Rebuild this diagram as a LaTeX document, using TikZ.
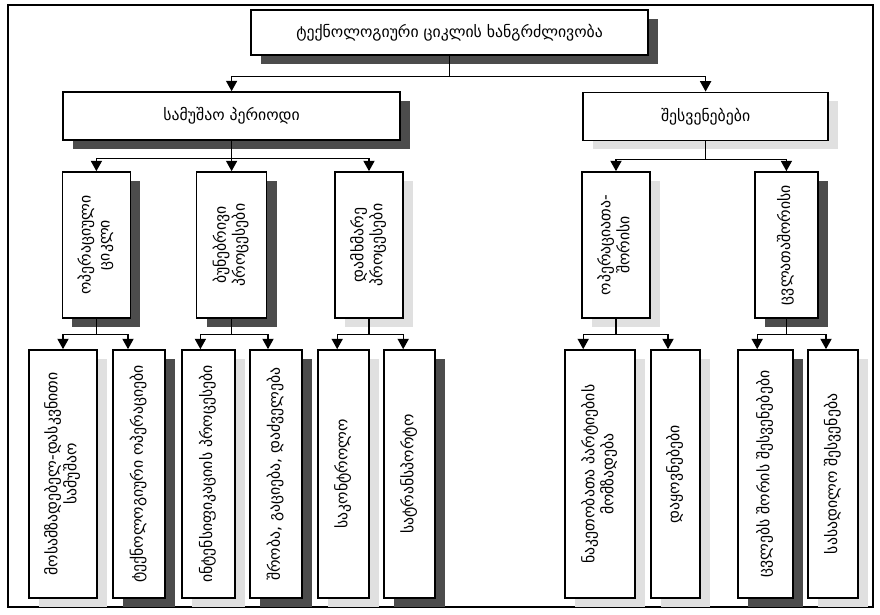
\documentclass[tikz,border=0pt]{standalone}
\usepackage{fontspec}
\setmainfont{DejaVu Sans}
\usetikzlibrary{arrows.meta,shadows}

% vertical (bottom-to-top) text for the narrow boxes
\newcommand{\sidetext}[1]{\rotatebox{90}{\begin{tabular}{@{}c@{}}#1\end{tabular}}}

\tikzset{
  block/.style={draw, line width=1.2pt, fill=white, inner sep=0pt,
    font=\fontsize{11.2}{13.5}\selectfont},
  darkshade/.style={drop shadow={shadow xshift=0.25cm, shadow yshift=-0.22cm,
    fill=black!70, opacity=1}},
  lightshade/.style={drop shadow={shadow xshift=0.25cm, shadow yshift=-0.22cm,
    fill=black!12, opacity=1}},
  link/.style={line width=0.9pt, -{Triangle[length=2.6mm,width=2.8mm]}}
}

\begin{document}
\begin{tikzpicture}
	\useasboundingbox (0,0) rectangle (22,15.35);
	% Frame
	\draw[line width=0.8pt] (0.2,0.175) rectangle (21.825,15.225);

	% Top level
	\node[block, darkshade, minimum width=9.925cm, minimum height=1.125cm] (cycle) at (11.24,14.54) {ტექნოლოგიური ციკლის ხანგრძლივობა};

	% Working period and breaks
	\node[block, darkshade, minimum width=8.425cm, minimum height=1.2cm] (work) at (5.79,12.45) {სამუშაო პერიოდი};
	\node[block, lightshade, minimum width=6.125cm, minimum height=1.2cm] (breaks) at (17.64,12.44) {შესვენებები};

	% Third level
	\node[block, darkshade, minimum width=1.7cm, minimum height=3.65cm] (opcycle) at (2.41,9.225) {\sidetext{ოპერაციული\\ციკლი}};
	\node[block, darkshade, minimum width=1.75cm, minimum height=3.65cm] (natural) at (5.79,9.225) {\sidetext{ბუნებრივი\\პროცესები}};
	\node[block, lightshade, minimum width=1.7cm, minimum height=3.65cm] (auxiliary) at (9.225,9.225) {\sidetext{დამხმარე\\პროცესები}};
	\node[block, lightshade, minimum width=1.7cm, minimum height=3.65cm] (interop) at (15.4,9.225) {\sidetext{ოპერაციათა-\\შორისი}};
	\node[block, darkshade, minimum width=1.575cm, minimum height=3.65cm] (intershift) at (19.66,9.225) {\sidetext{ცვლათაშორისი}};

	% Bottom level
	\node[block, lightshade, minimum width=1.7cm, minimum height=6.2cm] (prepfinal) at (1.575,3.5) {\sidetext{მოსამზადებელ-დასკვნითი\\სამუშაო}};
	\node[block, darkshade, minimum width=1.3cm, minimum height=6.2cm] (techops) at (3.475,3.5) {\sidetext{ტექნოლოგიური ოპერაციები}};
	\node[block, lightshade, minimum width=1.325cm, minimum height=6.2cm] (intensif) at (5.21,3.5) {\sidetext{ინტენსიფიკაციის პროცესები}};
	\node[block, darkshade, minimum width=1.3cm, minimum height=6.2cm] (drying) at (6.9,3.5) {\sidetext{შრობა, გაციება, დაძველება}};
	\node[block, lightshade, minimum width=1.275cm, minimum height=6.2cm] (control) at (8.59,3.5) {\sidetext{საკონტროლო}};
	\node[block, darkshade, minimum width=1.275cm, minimum height=6.2cm] (transport) at (10.24,3.5) {\sidetext{სატრანსპორტო}};
	\node[block, lightshade, minimum width=1.75cm, minimum height=6.2cm] (batches) at (15.0,3.5) {\sidetext{ნაკეთობათა პარტიების\\მომზადება}};
	\node[block, lightshade, minimum width=1.225cm, minimum height=6.2cm] (delays) at (16.89,3.5) {\sidetext{დაყოვნებები}};
	\node[block, darkshade, minimum width=1.375cm, minimum height=6.2cm] (shiftbreak) at (19.14,3.5) {\sidetext{ცვლებს შორის შესვენებები}};
	\node[block, lightshade, minimum width=1.25cm, minimum height=6.2cm] (lunch) at (20.83,3.5) {\sidetext{სასადილო შესვენება}};

	% Connectors
	\draw[link] (cycle.south) -- ++(0,-0.525) -| (work.north);
	\draw[link] (cycle.south) -- ++(0,-0.525) -| (breaks.north);

	\foreach \dst in {opcycle,natural,auxiliary}
		\draw[link] (work.south) -- ++(0,-0.45) -| (\dst.north);
	\foreach \dst in {interop,intershift}
		\draw[link] (breaks.south) -- ++(0,-0.45) -| (\dst.north);

	\foreach \src/\dst/\dx in {opcycle/prepfinal/0mm, opcycle/techops/-2.75mm,
		natural/intensif/-2mm, natural/drying/-2mm,
		auxiliary/control/-1.6mm, auxiliary/transport/-1.6mm,
		interop/batches/-4.2mm, interop/delays/-1.9mm,
		intershift/shiftbreak/-2.1mm, intershift/lunch/-1.8mm}
		\draw[link] (\src.south) -- ++(0,-0.4) -| ([xshift=\dx]\dst.north);
\end{tikzpicture}
\end{document}
